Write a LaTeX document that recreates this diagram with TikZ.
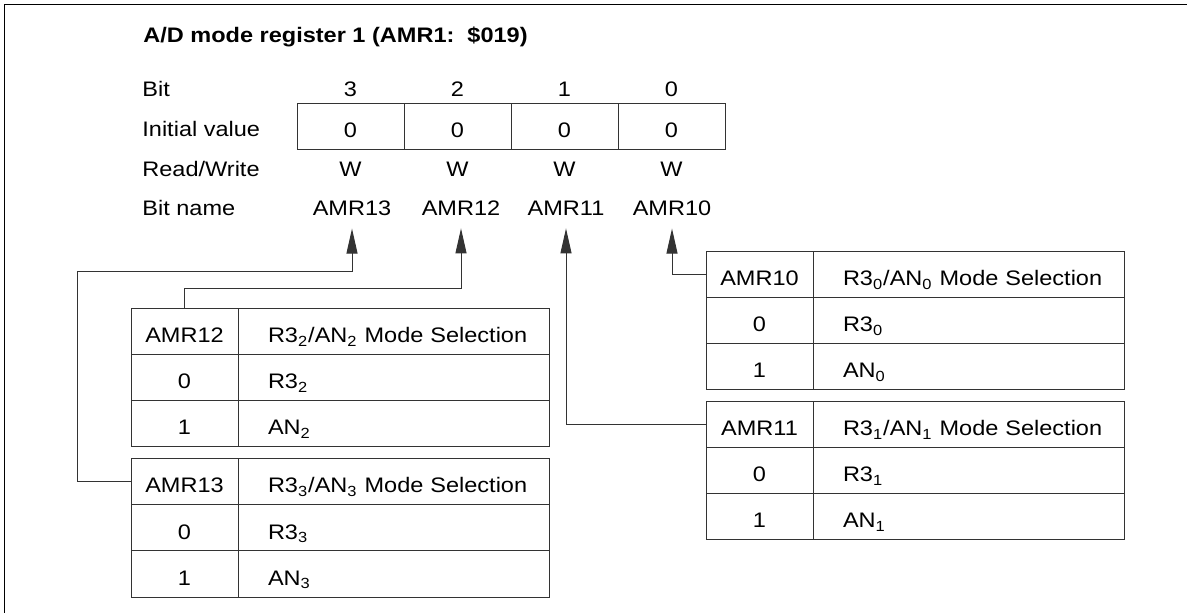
\documentclass[tikz,border=0pt]{standalone}
\usepackage{fontspec}
\setmainfont{Liberation Sans}[FakeStretch=1.12]
\usetikzlibrary{arrows.meta, positioning}
\tikzset{
  keycell/.style={rectangle, draw=black!80, line width=0.5pt, outer sep=0pt, inner sep=0pt, minimum width=53.5pt, minimum height=23pt, text height=11pt, text depth=0pt},
  valcell/.style={keycell, text width=155.5pt, align=left, execute at begin node=\hspace*{15pt}},
  lbl/.style={anchor=base west, inner sep=0pt},
  hdr/.style={anchor=base, inner sep=0pt},
  namelbl/.style={anchor=base, inner xsep=0pt, inner ysep=6pt},
  selarr/.style={draw=black!80, line width=0.5pt, -{Triangle[length=12.5pt, width=5.5pt]}},
}

\begin{document}
\begin{tikzpicture}[x=0.5pt, y=-0.5pt, node distance=0pt, font=\fontsize{10.5}{12.6}\selectfont]
\useasboundingbox (0,0) rectangle (1187,613);
\draw[line width=0.8pt] (1187,4.5) -- (4.5,4.5) -- (4.5,613);

\node[lbl, font=\fontsize{10.5}{12.6}\selectfont\bfseries] (title) at (143,43) {A/D mode register 1 (AMR1:\ \ \$019)};

% register rows
\node[lbl] (lbit) at (142,97) {Bit};
\node[lbl] (linit) at (142,137) {Initial value};
\node[lbl] (lrw) at (142,176.5) {Read/Write};
\node[lbl] (lname) at (142,216) {Bit name};
\foreach \b/\x in {3/350.5, 2/457.5, 1/564.5, 0/671.5} {
  \node[hdr] (bit\b) at (\x,97) {\b};
  \node[keycell] (init\b) at (\x,127) {0};
  \node[hdr] (rw\b) at (\x,176.5) {W};
}
\foreach \b/\x in {3/352, 2/461, 1/566, 0/672}
  \node[namelbl] (amr1\b) at (\x,216) {AMR1\b};

% AMR12 table
\node[keycell, anchor=north west] (k12) at (131,309) {AMR12};
\node[valcell, right=of k12] (v12) {R3\textsubscript{2}/AN\textsubscript{2} Mode Selection};
\node[keycell, below=of k12] (k12a) {0};
\node[valcell, right=of k12a] (v12a) {R3\textsubscript{2}};
\node[keycell, below=of k12a] (k12b) {1};
\node[valcell, right=of k12b] (v12b) {AN\textsubscript{2}};

% AMR13 table
\node[keycell, anchor=north west] (k13) at (131,459) {AMR13};
\node[valcell, right=of k13] (v13) {R3\textsubscript{3}/AN\textsubscript{3} Mode Selection};
\node[keycell, below=of k13] (k13a) {0};
\node[valcell, right=of k13a] (v13a) {R3\textsubscript{3}};
\node[keycell, below=of k13a] (k13b) {1};
\node[valcell, right=of k13b] (v13b) {AN\textsubscript{3}};

% AMR10 table
\node[keycell, anchor=north west] (k10) at (706,252) {AMR10};
\node[valcell, right=of k10] (v10) {R3\textsubscript{0}/AN\textsubscript{0} Mode Selection};
\node[keycell, below=of k10] (k10a) {0};
\node[valcell, right=of k10a] (v10a) {R3\textsubscript{0}};
\node[keycell, below=of k10a] (k10b) {1};
\node[valcell, right=of k10b] (v10b) {AN\textsubscript{0}};

% AMR11 table
\node[keycell, anchor=north west] (k11) at (706,402) {AMR11};
\node[valcell, right=of k11] (v11) {R3\textsubscript{1}/AN\textsubscript{1} Mode Selection};
\node[keycell, below=of k11] (k11a) {0};
\node[valcell, right=of k11a] (v11a) {R3\textsubscript{1}};
\node[keycell, below=of k11a] (k11b) {1};
\node[valcell, right=of k11b] (v11b) {AN\textsubscript{1}};

% connectors
\coordinate (c13) at (77,272);
\coordinate (c12) at (461,289);
\draw[selarr] (k13.west) -| (c13) -| (amr13.south);
\draw[selarr] (k12.north) |- (c12) -- (amr12.south);
\draw[selarr] (k11.west) -| (amr11.south);
\draw[selarr] (k10.west) -| (amr10.south);
\end{tikzpicture}
\end{document}
